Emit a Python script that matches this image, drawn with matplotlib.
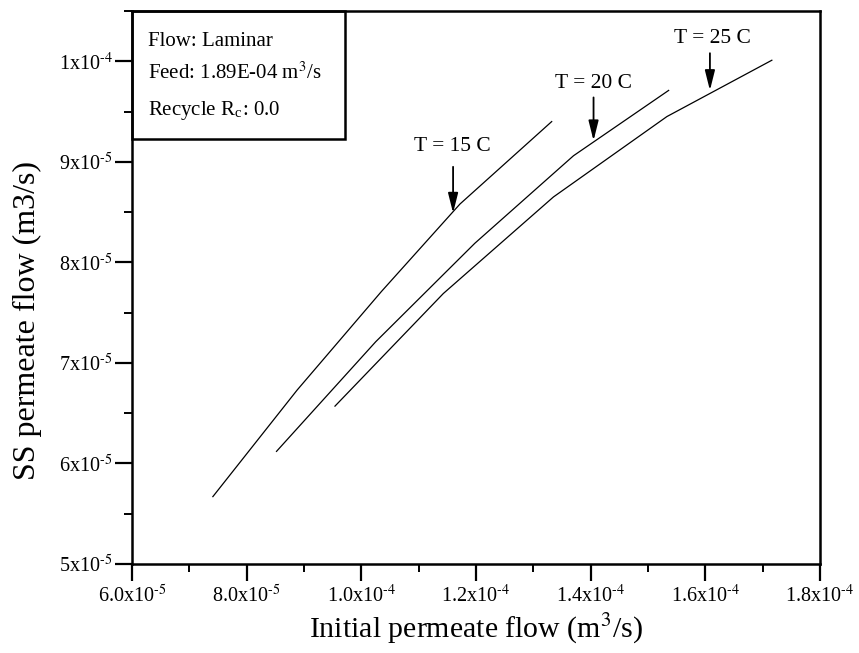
import numpy as np
import matplotlib
matplotlib.use("Agg")
import matplotlib.pyplot as plt
from matplotlib.patches import Rectangle

plt.rcParams['font.family'] = ['Liberation Serif', 'DejaVu Serif']
plt.rcParams['mathtext.fontset'] = 'stix'

#-------------------------------------------------
# Data (values in units of 1e-5 m3/s)
#-------------------------------------------------
x_t15 = [7.41, 8.88, 10.35, 11.72, 13.32]
y_t15 = [5.67, 6.73, 7.71, 8.58, 9.40]

x_t20 = [8.52, 10.25, 11.98, 13.70, 15.36]
y_t20 = [6.12, 7.21, 8.19, 9.06, 9.71]

x_t25 = [9.54, 11.43, 13.35, 15.33, 17.16]
y_t25 = [6.57, 7.69, 8.65, 9.45, 10.01]

x_ticks = [6.0, 8.0, 10.0, 12.0, 14.0, 16.0, 18.0]
x_labels = ['6.0x10$^{\\text{-5}}$', '8.0x10$^{\\text{-5}}$', '1.0x10$^{\\text{-4}}$',
            '1.2x10$^{\\text{-4}}$', '1.4x10$^{\\text{-4}}$', '1.6x10$^{\\text{-4}}$',
            '1.8x10$^{\\text{-4}}$']
y_ticks = [5, 6, 7, 8, 9, 10]
y_labels = ['5x10$^{\\text{-5}}$', '6x10$^{\\text{-5}}$', '7x10$^{\\text{-5}}$',
            '8x10$^{\\text{-5}}$', '9x10$^{\\text{-5}}$', '1x10$^{\\text{-4}}$']

# annotations: label, arrow tip, arrow tail, text centre
notes = [
    ('T = 15 C', (11.60, 8.49), (11.60, 8.95), (11.58, 9.15)),
    ('T = 20 C', (14.05, 9.21), (14.05, 9.64), (14.05, 9.78)),
    ('T = 25 C', (16.08, 9.71), (16.08, 10.08), (16.12, 10.23)),
]

#-------------------------------------------------
# Plot
#-------------------------------------------------
fig = plt.figure(figsize=(8.59, 6.53), dpi=100)
ax = fig.add_axes([0.1537, 0.1363, 0.8009, 0.8469])

for xs, ys in [(x_t15, y_t15), (x_t20, y_t20), (x_t25, y_t25)]:
    ax.plot(np.array(xs) * 1e-5, np.array(ys) * 1e-5, color='k', lw=0.9)

ax.set_xlim(6e-5, 1.8e-4)
ax.set_ylim(5e-5, 1.05e-4)

ax.set_xticks(np.array(x_ticks) * 1e-5)
ax.set_xticklabels(x_labels, fontsize=14.5)
ax.set_xticks(np.arange(7, 18, 2) * 1e-5, minor=True)
ax.set_yticks(np.array(y_ticks) * 1e-5)
ax.set_yticklabels(y_labels, fontsize=14.5)
ax.set_yticks(np.arange(5.5, 10.6, 1.0) * 1e-5, minor=True)

ax.tick_params(which='major', direction='out', length=12, width=1.6)
ax.tick_params(axis='x', which='major', pad=3)
ax.tick_params(axis='y', which='major', pad=2)
ax.tick_params(which='minor', direction='out', length=6, width=1.4)
for s in ax.spines.values():
    s.set_linewidth(1.8)

ax.set_xlabel('Initial permeate flow (m$^3$/s)', fontsize=21.5)
ax.xaxis.set_label_coords(0.5, -0.086)
ax.set_ylabel('SS permeate flow (m3/s)', fontsize=23)
ax.yaxis.set_label_coords(-0.131, 0.44)

for label, tip, tail, txt in notes:
    ax.annotate('', xy=(tip[0] * 1e-5, tip[1] * 1e-5),
                xytext=(tail[0] * 1e-5, tail[1] * 1e-5),
                arrowprops=dict(arrowstyle='-|>,head_length=1.2,head_width=0.3',
                                color='k', lw=1.3, mutation_scale=10,
                                shrinkA=0, shrinkB=0))
    ax.text(txt[0] * 1e-5, txt[1] * 1e-5, label, fontsize=15.5,
            ha='center', va='center')

# info box
ax.add_patch(Rectangle((0, 0.7685), 0.31, 0.2315, transform=ax.transAxes,
                       fill=False, edgecolor='k', lw=1.8, clip_on=False))
ax.text(0.023, 0.9367, 'Flow: Laminar', transform=ax.transAxes, fontsize=15)
ax.text(0.023, 0.8765, 'Feed: 1.89E-04 m$^3$/s', transform=ax.transAxes, fontsize=15)
ax.text(0.023, 0.812, 'Recycle R$_\\mathregular{c}$: 0.0', transform=ax.transAxes, fontsize=15)

plt.savefig('out.png', dpi=100)
